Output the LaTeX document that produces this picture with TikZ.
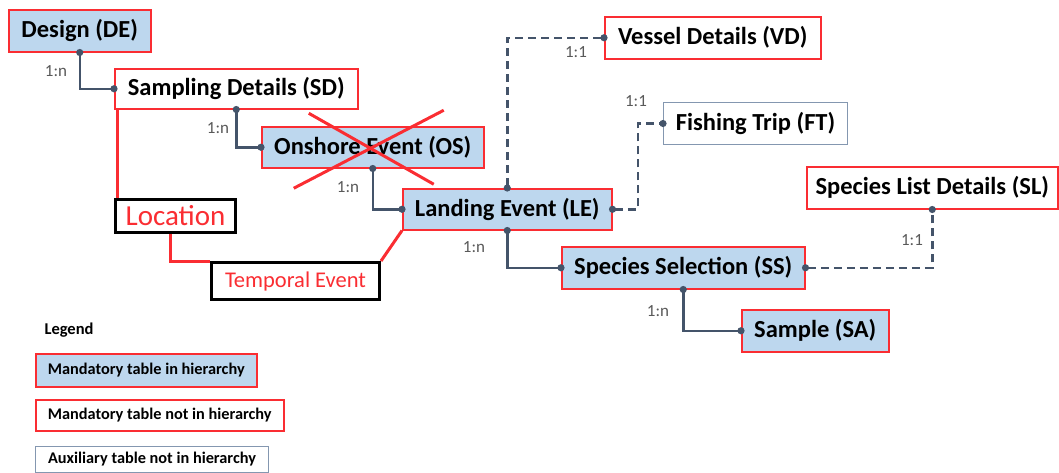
\documentclass[tikz,border=0pt]{standalone}
\usepackage{fontspec}
\setmainfont{Carlito}
\usetikzlibrary{arrows.meta,positioning,calc}
\definecolor{erdBlue}{RGB}{189,215,238}
\definecolor{erdRed}{RGB}{250,45,50}
\definecolor{erdLink}{RGB}{68,84,106}
\definecolor{erdAux}{RGB}{132,151,176}
\definecolor{erdText}{RGB}{89,89,89}
\begin{document}
\begin{tikzpicture}[x=1pt,y=-1pt,
    tbl/.style={draw=erdRed,line width=1.5pt,inner sep=0pt,anchor=north west,
                font=\fontsize{24.5}{27}\selectfont\bfseries},
    hier/.style={tbl,fill=erdBlue},
    plain/.style={tbl,fill=white},
    aux/.style={tbl,draw=erdAux,line width=1pt,fill=white},
    leg/.style={font=\fontsize{16.3}{18}\selectfont\bfseries},
    addbox/.style={draw=black,line width=3pt,fill=white,text=erdRed,inner sep=0pt,
                   anchor=north west},
    card/.style={text=erdText,font=\fontsize{17}{19}\selectfont,inner sep=0pt},
    lnk/.style={erdLink,line width=2.5pt,{Circle[length=7pt]}-{Circle[length=7pt]},
                shorten <=-3.5pt,shorten >=-3.5pt},
    opt/.style={lnk,dash pattern=on 8pt off 5pt},
    addln/.style={erdRed,line width=3pt}]
    \useasboundingbox (0,0) rectangle (1059,472);
    % tables
    \node[hier,minimum width=142pt,minimum height=42pt] (de) at (8,9) {Design (DE)};
    \node[plain,minimum width=243pt,minimum height=40pt] (sd) at (114,68) {Sampling Details (SD)};
    \node[hier,minimum width=222pt,minimum height=41pt] (os) at (261,126) {Onshore Event (OS)};
    \node[hier,minimum width=209pt,minimum height=41pt] (le) at (402,188) {Landing Event (LE)};
    \node[plain,minimum width=216pt,minimum height=42pt] (vd) at (604,16) {Vessel Details (VD)};
    \node[aux,minimum width=184pt,minimum height=42pt] (ft) at (663,102) {Fishing Trip (FT)};
    \node[plain,minimum width=251pt,minimum height=42pt] (sl) at (806,166) {Species List Details (SL)};
    \node[hier,minimum width=243pt,minimum height=42pt] (ss) at (561,246) {Species Selection (SS)};
    \node[hier,minimum width=147pt,minimum height=42pt] (sa) at (741,309) {Sample (SA)};
    % added boxes
    \draw[addln] ([xshift=3pt]sd.south west) -- (117,198);
    \node[addbox,minimum width=120pt,minimum height=33pt,font=\fontsize{29}{31}\selectfont]
      (loc) at (114,198) {Location};
    \node[addbox,minimum width=168pt,minimum height=37pt,font=\fontsize{22.5}{25}\selectfont]
      (te) at (210,261) {Temporal Event};
    \draw[addln] ([xshift=-5pt]loc.south) |- (te.north west);
    \draw[addln] (te.north east) -- (le.south west);
    % links
    \draw[lnk] (de.south) |- (sd.west);
    \draw[lnk] (sd.south) |- (os.west);
    \draw[lnk] (os.south) |- (le.west);
    \draw[lnk] (le.south) |- (ss.west);
    \draw[lnk] (ss.south) |- (sa.west);
    \draw[opt] (le.north) |- (vd.west);
    \draw[opt] (le.east) -| ($(le.east)!.5!(ft.west)$) |- (ft.west);
    \draw[opt] (ss.east) -| (sl.south);
    \node[card] (k1) at (56,71) {1:n};
    \node[card] (k2) at (218,128) {1:n};
    \node[card] (k3) at (348,187) {1:n};
    \node[card] (k4) at (474,247) {1:n};
    \node[card] (k5) at (658,311) {1:n};
    \node[card] (k6) at (576,52) {1:1};
    \node[card] (k7) at (636,101) {1:1};
    \node[card] (k8) at (912,240) {1:1};
    % crossed out
    \draw[addln] ($(os.center)+(-64,-34)$) -- ($(os.center)+(61,37)$);
    \draw[addln] ($(os.center)+(-79,41)$) -- ($(os.center)+(71,-37)$);
    % legend
    \node[anchor=west,font=\fontsize{16.5}{18}\selectfont\bfseries] (lgd) at (41,330) {Legend};
    \node[hier,leg,minimum width=221pt,minimum height=33pt] (lg1) at (35,353) {Mandatory table in hierarchy};
    \node[plain,leg,minimum width=248pt,minimum height=31pt] (lg2) at (35,399) {Mandatory table not in hierarchy};
    \node[aux,leg,minimum width=233pt,minimum height=26pt] (lg3) at (35,446) {Auxiliary table not in hierarchy};
\end{tikzpicture}
\end{document}
